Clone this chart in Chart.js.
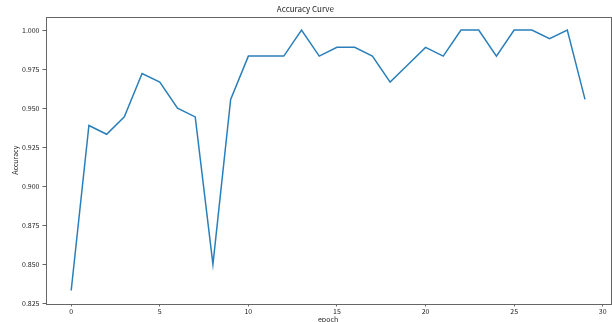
<!DOCTYPE html>
<html>
<head>
<meta charset="utf-8">
<script src="https://cdn.jsdelivr.net/npm/chart.js@4"></script>
<style>
  html, body { margin: 0; padding: 0; background: #fff; }
  #wrap { width: 612px; height: 322px; }
</style>
</head>
<body>
<div id="wrap"><canvas id="c" width="612" height="322"></canvas></div>
<script>
// Validation accuracy per training epoch
const epochs = [0,1,2,3,4,5,6,7,8,9,10,11,12,13,14,15,16,17,18,19,20,21,22,23,24,25,26,27,28,29];
const accuracy = [0.8333, 0.9389, 0.9333, 0.9444, 0.9722, 0.9667, 0.9500, 0.9444, 0.8500, 0.9556,
                  0.9833, 0.9833, 0.9833, 1.0000, 0.9833, 0.9889, 0.9889, 0.9833, 0.9667, 0.9778,
                  0.9889, 0.9833, 1.0000, 1.0000, 0.9833, 1.0000, 1.0000, 0.9944, 1.0000, 0.9556];
const xTicks = [0, 5, 10, 15, 20, 25, 30];
const yTicks = [0.825, 0.850, 0.875, 0.900, 0.925, 0.950, 0.975, 1.000];

const FONT = '"Noto Sans CJK SC", "DejaVu Sans", sans-serif';
const AXIS_COLOR = '#666';
const TEXT_COLOR = '#222';

// Frame around the plotting area (all four edges)
const frame = {
  id: 'frame',
  afterDatasetsDraw(chart) {
    const { ctx, chartArea: a } = chart;
    ctx.save();
    ctx.strokeStyle = AXIS_COLOR;
    ctx.lineWidth = 1;
    ctx.strokeRect(Math.round(a.left) + 0.5, Math.round(a.top) + 0.5,
                   Math.round(a.right - a.left), Math.round(a.bottom - a.top));
    ctx.restore();
  }
};

new Chart(document.getElementById('c'), {
  type: 'line',
  data: {
    datasets: [{
      data: epochs.map((e, i) => ({ x: e, y: accuracy[i] })),
      borderColor: '#2a7fba',
      borderWidth: 1.5,
      pointRadius: 0,
      tension: 0,
      fill: false
    }]
  },
  options: {
    responsive: false,
    animation: false,
    layout: { padding: { left: 0, right: 1.3, top: 0, bottom: 0 } },
    plugins: {
      legend: { display: false },
      tooltip: { enabled: false },
      title: {
        display: true,
        text: 'Accuracy Curve',
        color: TEXT_COLOR,
        font: { family: FONT, size: 8, weight: 'normal' },
        padding: { top: 4, bottom: 3.4 }
      }
    },
    scales: {
      x: {
        type: 'linear',
        min: -1.45,
        max: 30.45,
        afterBuildTicks(scale) { scale.ticks = xTicks.map(v => ({ value: v })); },
        afterFit(scale) { scale.height = 18.5; },
        grid: { display: true, drawOnChartArea: false, drawTicks: true, tickLength: 3, color: AXIS_COLOR },
        border: { display: false },
        ticks: {
          color: TEXT_COLOR, padding: 1, maxRotation: 0,
          font: { family: FONT, size: 7 },
          callback: v => String(v)
        },
        title: {
          display: true, text: 'epoch', color: TEXT_COLOR,
          font: { family: FONT, size: 7, lineHeight: 0.8 },
          padding: { top: 0, bottom: 0 }
        }
      },
      y: {
        type: 'linear',
        min: 0.825,
        max: 1.00833,
        afterBuildTicks(scale) { scale.ticks = yTicks.map(v => ({ value: v })); },
        afterFit(scale) { scale.width = 45.5; },
        grid: { display: true, drawOnChartArea: false, drawTicks: true, tickLength: 3, color: AXIS_COLOR },
        border: { display: false },
        ticks: {
          color: TEXT_COLOR, padding: 3,
          font: { family: FONT, size: 7 },
          callback: v => Number(v).toFixed(3)
        },
        title: {
          display: true, text: 'Accuracy', color: TEXT_COLOR,
          font: { family: FONT, size: 7 },
          padding: { top: 10.8, bottom: 0 }
        }
      }
    }
  },
  plugins: [frame]
});
</script>
</body>
</html>
